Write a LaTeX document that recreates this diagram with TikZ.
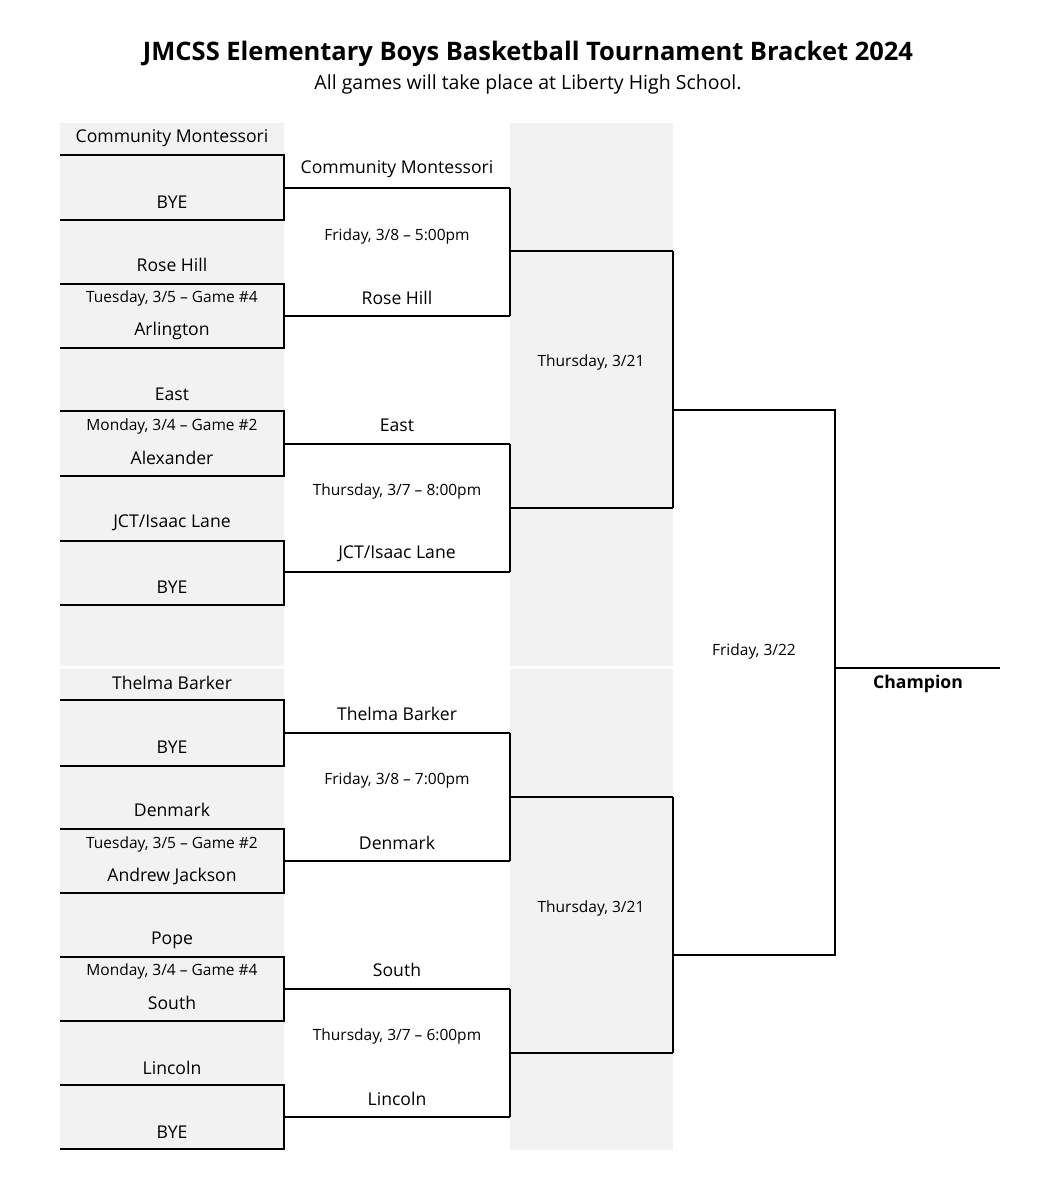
\documentclass[tikz,border=0pt]{standalone}
\usepackage{fontspec}
\setmainfont{Open Sans}
\begin{document}
\begin{tikzpicture}[x=1pt,y=-1pt,
  br/.style={line width=1.8pt,black},
  nm/.style={font=\fontsize{17.6}{19}\selectfont,inner sep=0pt,anchor=center},
  dt/.style={font=\fontsize{15.5}{17}\selectfont,inner sep=0pt,anchor=center},
  gry/.style={fill=black!5,draw=none}]
\useasboundingbox (0,0) rectangle (1057,1200);
% grey columns
\fill[gry] (60,123) rectangle (284,666);
\fill[gry] (60,669) rectangle (284,1150);
\fill[gry] (510,123) rectangle (673,666);
\fill[gry] (510,669) rectangle (673,1150);
% title
\node[font=\fontsize{25.5}{28}\selectfont\bfseries] (title) at (528,54) {JMCSS Elementary Boys Basketball Tournament Bracket 2024};
\node[font=\fontsize{19.5}{21}\selectfont] (sub) at (528,84) {All games will take place at Liberty High School.};
% round 1 brackets
\foreach \t/\b/\o [count=\i] in {155/220/188,284/348/316,411/476/444,541/605/572,700/766/733,829/893/861,957/1021/989,1085/1149/1117}{
  \coordinate (a\i) at (60,\t); \coordinate (b\i) at (60,\b);
  \coordinate (at\i) at (284,\t); \coordinate (bt\i) at (284,\b);
  \coordinate (o\i) at (284,\o); \coordinate (p\i) at (510,\o);
  \draw[br] (a\i) -- (at\i) -- (bt\i) -- (b\i);
  \draw[br] (o\i) -- (p\i);
}
% round 2
\foreach \u/\v/\o [count=\i] in {1/2/251,3/4/508,5/6/797,7/8/1053}{
  \coordinate (q\i) at (510,\o); \coordinate (r\i) at (673,\o);
  \draw[br] (p\u) -- (p\v);
  \draw[br] (q\i) -- (r\i);
}
% round 3
\coordinate (s1) at (835,410); \coordinate (s2) at (835,955);
\draw[br] (r1) -- (r2);
\draw[br] (r3) -- (r4);
\draw[br] (673,410) -- (s1) -- (s2) -- (673,955);
\coordinate (c1) at (835,668); \coordinate (c2) at (1000,668);
\draw[br] (c1) -- (c2);
% column 1 texts
\node[nm] (t1) at (172,138) {Community Montessori};
\node[nm] (t2) at (172,202) {BYE};
\node[nm] (t3) at (172,265) {Rose Hill};
\node[dt] (t4) at (172,298) {Tuesday, 3/5 – Game \#4};
\node[nm] (t5) at (172,331) {Arlington};
\node[nm] (t6) at (172,394) {East};
\node[dt] (t7) at (172,426) {Monday, 3/4 – Game \#2};
\node[nm] (t8) at (172,458) {Alexander};
\node[nm] (t9) at (172,523) {JCT/Isaac Lane};
\node[nm] (t10) at (172,587) {BYE};
\node[nm] (t11) at (172,683) {Thelma Barker};
\node[nm] (t12) at (172,747) {BYE};
\node[nm] (t13) at (172,810) {Denmark};
\node[dt] (t14) at (172,844) {Tuesday, 3/5 – Game \#2};
\node[nm] (t15) at (172,876) {Andrew Jackson};
\node[nm] (t16) at (172,940) {Pope};
\node[dt] (t17) at (172,971) {Monday, 3/4 – Game \#4};
\node[nm] (t18) at (172,1003) {South};
\node[nm] (t19) at (172,1068) {Lincoln};
\node[nm] (t20) at (172,1132) {BYE};
% column 2 texts
\node[nm] (u1) at (397,169) {Community Montessori};
\node[dt] (u2) at (397,236) {Friday, 3/8 – 5:00pm};
\node[nm] (u3) at (397,298) {Rose Hill};
\node[nm] (u4) at (397,425) {East};
\node[dt] (u5) at (397,491) {Thursday, 3/7 – 8:00pm};
\node[nm] (u6) at (397,554) {JCT/Isaac Lane};
\node[nm] (u7) at (397,714) {Thelma Barker};
\node[dt] (u8) at (397,780) {Friday, 3/8 – 7:00pm};
\node[nm] (u9) at (397,843) {Denmark};
\node[nm] (u10) at (397,970) {South};
\node[dt] (u11) at (397,1036) {Thursday, 3/7 – 6:00pm};
\node[nm] (u12) at (397,1099) {Lincoln};
% later rounds
\node[dt] (v1) at (591,362) {Thursday, 3/21};
\node[dt] (v2) at (591,908) {Thursday, 3/21};
\node[dt] (w1) at (754,651) {Friday, 3/22};
\node[nm,font=\fontsize{17.6}{19}\selectfont\bfseries] (ch) at (918,684) {Champion};
\end{tikzpicture}
\end{document}
